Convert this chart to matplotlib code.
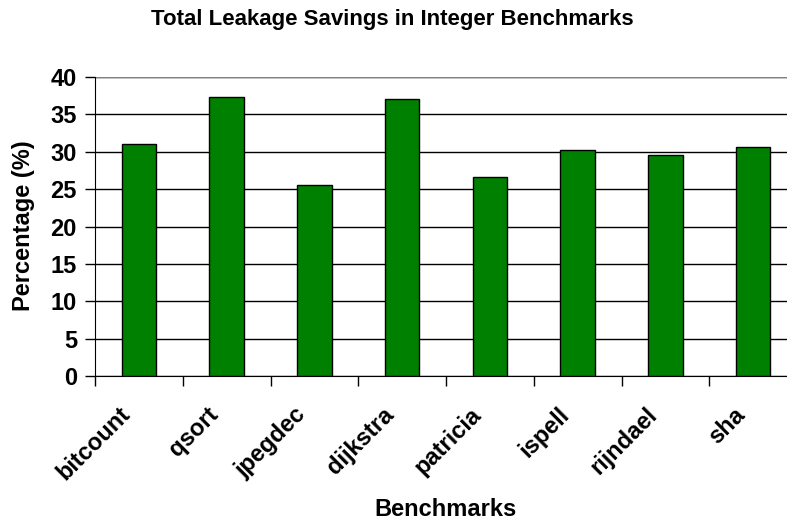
import matplotlib.pyplot as plt
import numpy as np

plt.rcParams['font.family'] = ['Liberation Sans', 'DejaVu Sans']
plt.rcParams['font.weight'] = 'bold'

benchmarks = ["bitcount", "qsort", "jpegdec", "dijkstra",
              "patricia", "ispell", "rijndael", "sha"]
savings = [31.1, 37.3, 25.5, 37.0, 26.6, 30.2, 29.5, 30.6]
yticks = [0, 5, 10, 15, 20, 25, 30, 35, 40]

fig = plt.figure(figsize=(7.87, 5.21), dpi=100)
# plot area runs a bit past the right edge of the figure
ax = fig.add_axes([95 / 787, 1 - 376 / 521, 702 / 787, 299 / 521])

x = np.arange(len(benchmarks))
ax.bar(x, savings, width=0.395, color='#008000', edgecolor='black',
       linewidth=1.0, zorder=3)

ax.set_xlim(-0.5, len(benchmarks) - 0.5)
ax.set_ylim(0, 40)
ax.set_yticks(yticks)
ax.yaxis.grid(True, color='black', linewidth=1.0, zorder=0)
ax.set_axisbelow(True)

# category ticks sit between the bars
ax.set_xticks(np.arange(len(benchmarks) + 1) - 0.5)
ax.set_xticklabels([])
ax.tick_params(axis='x', length=7, width=1, color='black', direction='out')
ax.tick_params(axis='y', length=7, width=1, color='black', direction='out',
               labelsize=17, pad=6)
for lab in ax.get_yticklabels():
    lab.set_fontweight('bold')

# slanted category names, right end just left of each bar
for i, name in enumerate(benchmarks):
    ax.text(i - 0.23, -3.6, name, rotation=45, ha='right', va='top',
            rotation_mode='anchor', fontsize=17, fontweight='bold',
            clip_on=False)

for side in ['top', 'right']:
    ax.spines[side].set_visible(False)
ax.spines['left'].set_color('black')
ax.spines['bottom'].set_color('black')
ax.axhline(40, color='#808080', linewidth=1.6, zorder=1)

fig.text(24 / 787, 1 - 226 / 521, 'Percentage (%)', rotation=90,
         ha='center', va='center', fontsize=17, fontweight='bold')
fig.text(446 / 787, 1 - 509 / 521, 'Benchmarks', ha='center', va='center',
         fontsize=17, fontweight='bold')
fig.text(392 / 787, 1 - 20 / 521, 'Total Leakage Savings in Integer Benchmarks',
         ha='center', va='center', fontsize=16, fontweight='bold')

fig.savefig('out.png', dpi=100)
